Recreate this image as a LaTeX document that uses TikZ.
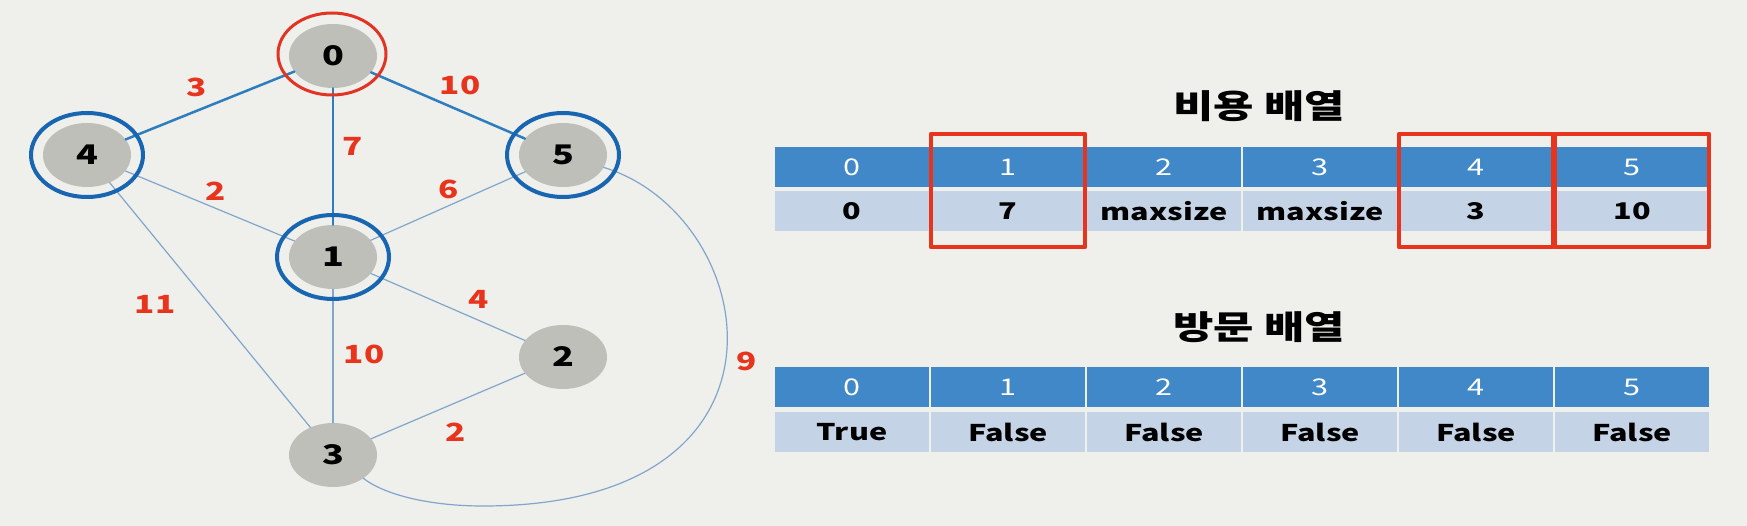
\documentclass[tikz,border=0pt]{standalone}
\usepackage{fontspec}
\setmainfont{Noto Sans CJK KR}
\usetikzlibrary{shapes.geometric,calc}

\definecolor{bgcol}{RGB}{239,239,235}
\definecolor{vgray}{RGB}{191,191,186}
\definecolor{ringblue}{RGB}{24,102,178}
\definecolor{ringred}{RGB}{226,52,36}
\definecolor{wred}{RGB}{232,52,28}
\definecolor{edgedark}{RGB}{46,125,190}
\definecolor{edgelight}{RGB}{128,166,204}
\definecolor{headblue}{RGB}{64,136,199}
\definecolor{cellblue}{RGB}{196,211,229}

\newcommand\widetxt[1]{\scalebox{1.33}[1]{#1}}

\tikzset{
  vertex/.style={ellipse,fill=vgray,minimum width=88pt,minimum height=64pt,inner sep=0pt,
    font=\bfseries\fontsize{27}{30}\selectfont},
  ring/.style={ellipse,draw=ringblue,line width=4pt,minimum width=112pt,minimum height=84pt,inner sep=0pt},
  startring/.style={ring,draw=ringred,line width=3pt,minimum width=108pt,minimum height=82pt},
  wlabel/.style={text=wred,font=\bfseries\fontsize{25}{28}\selectfont,inner sep=0pt},
  thickedge/.style={draw=edgedark,line width=2.5pt},
  thinedge/.style={draw=edgelight,line width=1.2pt},
  headcell/.style={rectangle,fill=headblue,text=white,minimum width=154pt,minimum height=40pt,
    inner sep=0pt,font=\fontsize{23}{26}\selectfont},
  datacell/.style={headcell,fill=cellblue,text=black,font=\bfseries\fontsize{23}{26}\selectfont},
  pick/.style={draw=wred,line width=3.5pt},
  title/.style={font=\bfseries\fontsize{33}{36}\selectfont,inner sep=0pt}
}

\begin{document}
\begin{tikzpicture}[x=1pt,y=-1pt,line cap=round,line join=round]
  \useasboundingbox (0,0) rectangle (1747,526);
  \fill[bgcol] (0,0) rectangle (1747,526);

  % graph
  \node[vertex] (n0) at (333,56) {\widetxt{0}};
  \node[vertex] (n4) at (87,155) {\widetxt{4}};
  \node[vertex] (n5) at (563,155) {\widetxt{5}};
  \node[vertex] (n1) at (333,257) {\widetxt{1}};
  \node[vertex] (n2) at (563,357) {\widetxt{2}};
  \node[vertex] (n3) at (333,455) {\widetxt{3}};
  \coordinate (arcbot) at (483,506);

  \draw[thickedge] (n0) -- (n4);
  \draw[thickedge] (n0) -- (n1);
  \draw[thickedge] (n0) -- (n5);
  \draw[thinedge] (n4) -- (n1);
  \draw[thinedge] (n5) -- (n1);
  \draw[thinedge] (n4) -- (n3);
  \draw[thinedge] (n1) -- (n3);
  \draw[thinedge] (n1) -- (n2);
  \draw[thinedge] (n2) -- (n3);
  \draw[thinedge] (n5) .. controls (760,215) and (815,506) .. (arcbot)
    .. controls (430,506) and (385,495) .. (n3);

  \node[startring] (r0) at (332,54) {};
  \node[ring] (r4) at (n4) {};
  \node[ring] (r5) at (n5) {};
  \node[ring] (r1) at (n1) {};

  % weights
  \node[wlabel] (w04) at (197,87) {\widetxt{3}};
  \node[wlabel] (w05) at (460,85) {\widetxt{10}};
  \node[wlabel] (w01) at (353,146) {\widetxt{7}};
  \node[wlabel] (w41) at (216,191) {\widetxt{2}};
  \node[wlabel] (w51) at (449,189) {\widetxt{6}};
  \node[wlabel] (w12) at (479,299) {\widetxt{4}};
  \node[wlabel] (w43) at (155,304) {\widetxt{11}};
  \node[wlabel] (w13) at (364,354) {\widetxt{10}};
  \node[wlabel] (w23) at (456,432) {\widetxt{2}};
  \node[wlabel] (w53) at (747,361) {\widetxt{9}};

  % cost array
  \node[title] (costtitle) at (1259,106) {\widetxt{비용 배열}};
  \foreach \v [count=\i from 0] in {0,7,maxsize,maxsize,3,10} {
    \node[headcell] (ch\i) at ({852+156*\i},167) {\widetxt{\i}};
    \node[datacell] (cd\i) at ({852+156*\i},211) {\widetxt{\v}};
  }
  \foreach \i in {1,4,5}
    \draw[pick] ($(ch\i.north west)+(0,-13)$) rectangle ($(cd\i.south east)+(0,16)$);

  % visited array
  \node[title] (visittitle) at (1259,327) {\widetxt{방문 배열}};
  \foreach \v [count=\i from 0] in {True,False,False,False,False,False} {
    \node[headcell] (vh\i) at ({852+156*\i},387) {\widetxt{\i}};
    \node[datacell] (vd\i) at ({852+156*\i},432) {\widetxt{\v}};
  }
\end{tikzpicture}
\end{document}
